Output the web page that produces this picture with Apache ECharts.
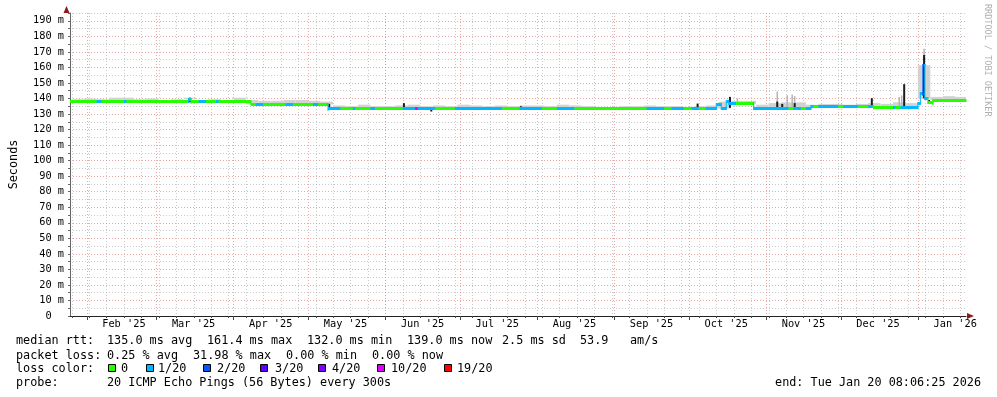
<!DOCTYPE html>
<html>
<head>
<meta charset="utf-8">
<script src="https://cdn.jsdelivr.net/npm/echarts@6/dist/echarts.min.js"></script>
<style>html,body{margin:0;padding:0;background:#fff}#chart{width:997px;height:397px}</style>
</head>
<body>
<div id="chart"></div>
<script>
const startTime = '2025-01-25T08:06:25';
const endTime = '2026-01-20T08:06:25';
const yMax = 195;

const lossNames = ['0', '1/20', '2/20', '3/20', '4/20', '10/20', '19/20'];
const lossColors = ['#26ff00', '#00b8ff', '#0059ff', '#5e00ff', '#7e00ff', '#dd00ff', '#ff0000'];

// median rtt, step changes (start date, ms, loss class index)
const medianDates = [
  '2025-01-25T08:06:25', '2025-02-05', '2025-02-07', '2025-02-16', '2025-02-17', '2025-03-14', '2025-03-15',
  '2025-03-18', '2025-03-21', '2025-03-25', '2025-03-26', '2025-04-08', '2025-04-10', '2025-04-13',
  '2025-04-22', '2025-04-25', '2025-05-03', '2025-05-05', '2025-05-09', '2025-05-14', '2025-05-19',
  '2025-05-20', '2025-05-26', '2025-05-28', '2025-06-08', '2025-06-13', '2025-06-14', '2025-06-21',
  '2025-06-29', '2025-07-18', '2025-07-25', '2025-08-03', '2025-08-09', '2025-08-16', '2025-09-14',
  '2025-09-21', '2025-09-24', '2025-09-29', '2025-10-02', '2025-10-05', '2025-10-08', '2025-10-12',
  '2025-10-14', '2025-10-16', '2025-10-17', '2025-10-20', '2025-10-27', '2025-11-10', '2025-11-12',
  '2025-11-15', '2025-11-17', '2025-11-19', '2025-11-20', '2025-11-22', '2025-11-30', '2025-12-02',
  '2025-12-08', '2025-12-12', '2025-12-14', '2025-12-22', '2025-12-23', '2025-12-25', '2025-12-30',
  '2026-01-01', '2026-01-02', '2026-01-03', '2026-01-03T18:00:00', '2026-01-05', '2026-01-07'
];
const medianMs = [
  138, 138, 138, 138, 138, 139.5, 137.8,
  137.8, 137.8, 137.8, 137.8, 136.2, 136.2, 136.2,
  136.2, 136.2, 136.2, 136.2, 133.3, 133.3, 133.3,
  133.3, 133.3, 133.3, 133.3, 133.3, 133.3, 133.3,
  133.3, 133.3, 133.3, 133.3, 133.3, 133.3, 133.3,
  133.3, 133.3, 133.3, 133.3, 133.3, 133.5, 136,
  133.5, 138, 136.5, 136.5, 133.5, 133.5, 133.5,
  133.5, 133.5, 134.6, 134.6, 134.6, 134.6, 134.6,
  134.6, 134.6, 134.5, 134.5, 134.5, 134.5, 134.2,
  137, 143, 161.4, 140, 137.2, 139
];
const medianLoss = [
  0, 1, 0, 1, 0, 1, 0,
  1, 0, 1, 0, 0, 1, 0,
  1, 0, 1, 0, 1, 0, 1,
  0, 1, 0, 1, 5, 1, 0,
  1, 0, 1, 0, 1, 0, 1,
  0, 1, 0, 1, 0, 1, 1,
  1, 1, 1, 0, 1, 0, 1,
  0, 1, 1, 0, 1, 0, 1,
  0, 1, 0, 1, 0, 1, 1,
  1, 1, 2, 1, 0, 0
];

// smoke top (ms), one value per 5-day slot starting 2025-01-26
const smokeFirst = '2025-01-26';
const smokeTop = [
  139.5, 140, 139.5, 140.5, 140.5, 139.5, 140,
  139, 139.5, 140.5, 139, 139.5, 139, 140.5, 139,
  138.5, 138.5, 139, 139, 138.5, 138,
  135.5, 135, 136, 135, 135, 135.5, 136, 135, 135.5, 135,
  136, 135.5, 135, 135.5, 135, 135.5, 135.5, 135, 136, 135.5,
  135, 134.5, 134.5, 135, 135, 135.5, 135, 135, 134.5, 135, 135.5,
  138, 138.5, 138.5, 136, 137, 137.5, 137.5, 136, 136.5, 136.5, 136, 136.5, 137, 136.5, 137.5, 137,
  140, 141, 141.5, 141
];

// taller grey smoke spikes
const greyDates = ['2025-10-20', '2025-11-05', '2025-11-09', '2025-11-11', '2025-11-12', '2025-12-24', '2025-12-25', '2026-01-03'];
const greyTop = [140, 144.5, 142, 142.5, 141.5, 141, 142, 172];

// dark spikes
const darkDates = ['2025-03-14', '2025-05-09', '2025-06-08', '2025-06-19', '2025-07-25', '2025-10-04', '2025-10-17',
  '2025-11-05', '2025-11-07', '2025-11-12', '2025-12-13', '2025-12-26', '2026-01-03', '2026-01-05'];
const darkLow = [137.5, 133, 133, 131.6, 133, 133, 134, 133, 133, 133, 134, 134.5, 140, 136.5];
const darkHigh = [140.5, 136.5, 137, 133.5, 135, 136.7, 141, 138, 136.5, 137, 140.2, 149.2, 168, 139];

const monthStarts = ['2025-02-01', '2025-03-01', '2025-04-01', '2025-05-01', '2025-06-01', '2025-07-01',
  '2025-08-01', '2025-09-01', '2025-10-01', '2025-11-01', '2025-12-01', '2026-01-01'];
const monthLabelDates = ['2025-02-16', '2025-03-16', '2025-04-16', '2025-05-16', '2025-06-16', '2025-07-16',
  '2025-08-16', '2025-09-16', '2025-10-16', '2025-11-16', '2025-12-16', '2026-01-16'];
const monthNames = ['Jan', 'Feb', 'Mar', 'Apr', 'May', 'Jun', 'Jul', 'Aug', 'Sep', 'Oct', 'Nov', 'Dec'];
const firstSunday = '2025-01-26';

const DAY = 86400000;
const ts = s => new Date(s.length === 10 ? s + 'T00:00:00' : s).getTime();
const tStart = ts(startTime), tEnd = ts(endTime);

function medianAt(t) {
  let v = medianMs[0];
  for (let i = 0; i < medianDates.length; i++) { if (ts(medianDates[i]) <= t) v = medianMs[i]; }
  return v;
}

// [start, end, ms, lossIdx, previous ms]
const medianData = medianDates.map((d, i) => [ts(d), i < medianDates.length - 1 ? ts(medianDates[i + 1]) : tEnd,
  medianMs[i], medianLoss[i], i > 0 ? medianMs[i - 1] : medianMs[i]]);
const smokeData = smokeTop.map((v, i) => {
  const t0 = ts(smokeFirst) + i * 5 * DAY;
  return [t0, Math.min(t0 + 5 * DAY, tEnd), medianAt(t0 + 2.5 * DAY), v];
});
const greyData = greyDates.map((d, i) => [ts(d) + DAY / 2, medianAt(ts(d) + DAY / 2), greyTop[i]]);
const darkData = darkDates.map((d, i) => [ts(d) + DAY / 2, darkLow[i], darkHigh[i]]);

const gridData = monthStarts.map(d => [ts(d), 1]);
for (let t = ts(firstSunday); t < tEnd; t += 7 * DAY) gridData.push([t, 0]);

const MONO = '"DejaVu Sans Mono", monospace';
const RED_GRID = 'rgba(222,110,110,0.6)';
const GREY_GRID = 'rgba(160,160,160,0.55)';

const chart = echarts.init(document.getElementById('chart'));
const option = {
  animation: false,
  backgroundColor: '#fff',
  grid: { left: 66, right: 31, top: 13, bottom: 81 },
  xAxis: {
    type: 'time', min: tStart, max: tEnd,
    axisLine: { lineStyle: { color: '#222', width: 1 } },
    axisTick: { show: false }, axisLabel: { show: false }, splitLine: { show: false }
  },
  yAxis: {
    type: 'value', min: 0, max: yMax, interval: 5,
    name: 'Seconds', nameLocation: 'middle', nameGap: 50,
    nameTextStyle: { fontFamily: MONO, fontSize: 11.8, color: '#000' },
    axisLine: { show: true, lineStyle: { color: '#666' } },
    axisTick: { show: true, length: 2, lineStyle: { color: '#666' } },
    axisLabel: {
      fontFamily: MONO, fontSize: 10.3, color: '#000', margin: 6,
      formatter: v => (v % 10 !== 0 ? '' : v === 0 ? '0  ' : v + ' m')
    },
    splitLine: { show: true, lineStyle: { color: [RED_GRID, GREY_GRID], type: [1, 2], width: 1 } }
  },
  series: [
    {
      type: 'custom', name: 'vgrid', z: 1, silent: true, clip: false,
      data: gridData,
      renderItem: (params, api) => {
        const t = api.value(0), major = api.value(1);
        const top = api.coord([t, yMax]), bot = api.coord([t, 0]);
        const x = Math.round(bot[0]) + 0.5;
        return { type: 'group', children: [
          { type: 'line', shape: { x1: x, y1: top[1], x2: x, y2: bot[1] },
            style: { stroke: major ? RED_GRID : GREY_GRID, lineWidth: 1, lineDash: [1, 2] } },
          { type: 'line', shape: { x1: x, y1: bot[1], x2: x, y2: bot[1] + (major ? 4 : 2) },
            style: { stroke: '#444', lineWidth: 1 } }
        ] };
      }
    },
    {
      type: 'custom', name: 'monthLabels', z: 1, silent: true, clip: false,
      data: monthLabelDates.map(d => [ts(d)]),
      renderItem: (params, api) => {
        const t = api.value(0), p = api.coord([t, 0]), d = new Date(t);
        return { type: 'text', x: p[0], y: p[1] + 3,
          style: { text: monthNames[d.getMonth()] + " '" + String(d.getFullYear()).slice(2),
            font: '10.3px ' + MONO, fill: '#000', textAlign: 'center', textVerticalAlign: 'top' } };
      }
    },
    {
      type: 'custom', name: 'smoke', z: 2, silent: true,
      data: smokeData, encode: { x: [0, 1], y: [2, 3] },
      renderItem: (params, api) => {
        const a = api.coord([api.value(0), api.value(3)]), b = api.coord([api.value(1), api.value(2)]);
        return { type: 'rect', shape: { x: a[0], y: a[1], width: b[0] - a[0], height: b[1] - a[1] },
          style: { fill: '#d2d2d2' } };
      }
    },
    {
      type: 'custom', name: 'greySpikes', z: 3, silent: true,
      data: greyData, encode: { x: 0, y: [1, 2] },
      renderItem: (params, api) => {
        const a = api.coord([api.value(0), api.value(2)]), b = api.coord([api.value(0), api.value(1)]);
        return { type: 'rect', shape: { x: a[0] - 0.75, y: a[1], width: 1.5, height: b[1] - a[1] },
          style: { fill: '#b4b4b4' } };
      }
    },
    {
      type: 'custom', name: 'darkSpikes', z: 4, silent: true,
      data: darkData, encode: { x: 0, y: [1, 2] },
      renderItem: (params, api) => {
        const a = api.coord([api.value(0), api.value(2)]), b = api.coord([api.value(0), api.value(1)]);
        return { type: 'rect', shape: { x: a[0] - 1, y: a[1], width: 2, height: b[1] - a[1] },
          style: { fill: '#1c1c1c' } };
      }
    },
    {
      type: 'custom', name: 'median', z: 5, silent: true,
      data: medianData, encode: { x: [0, 1], y: [2, 4] },
      renderItem: (params, api) => {
        const v = api.value(2), pv = api.value(4), t0 = api.value(0), t1 = api.value(1);
        const a = api.coord([t0, v]), b = api.coord([t1, v]);
        const color = lossColors[api.value(3)];
        const y0 = Math.round(a[1] - 1.5);
        const children = [{ type: 'rect', shape: { x: a[0], y: y0, width: b[0] - a[0] + 0.5, height: 3 }, style: { fill: color } }];
        if (pv !== v) {
          const p = api.coord([t0, pv]);
          const top = Math.round(Math.min(p[1], a[1]) - 1.5);
          children.push({ type: 'rect', shape: { x: a[0] - 0.5, y: top, width: 1, height: Math.round(Math.abs(p[1] - a[1])) + 3 }, style: { fill: color } });
        }
        return { type: 'group', children };
      }
    }
  ],
  graphic: []
};

const g = option.graphic;
const txt = (x, y, s) => g.push({ type: 'text', x, y, silent: true,
  style: { text: s, font: '11.8px ' + MONO, fill: '#000', textVerticalAlign: 'middle' } });
// axis arrows
g.push({ type: 'polygon', silent: true, shape: { points: [[63.5, 13], [69.5, 13], [66.5, 6]] }, style: { fill: '#8b1a1a' } });
g.push({ type: 'polygon', silent: true, shape: { points: [[967, 313], [967, 319], [974, 316]] }, style: { fill: '#8b1a1a' } });
// stats
txt(16, 341, 'median rtt:');
txt(107, 341, '135.0 ms avg'); txt(207, 341, '161.4 ms max'); txt(307, 341, '132.0 ms min');
txt(407, 341, '139.0 ms now'); txt(502, 341, '2.5 ms sd'); txt(580, 341, '53.9'); txt(630, 341, 'am/s');
txt(16, 355.5, 'packet loss:');
txt(107, 355.5, '0.25 % avg'); txt(193, 355.5, '31.98 % max'); txt(286, 355.5, '0.00 % min'); txt(372, 355.5, '0.00 % now');
txt(16, 369, 'loss color:');
const boxX = [108, 146, 203, 260, 318, 377, 444];
const boxLabelX = [121, 158, 217, 275, 332, 391, 457];
lossNames.forEach((n, i) => {
  g.push({ type: 'rect', silent: true, shape: { x: boxX[i] + 0.5, y: 364.5, width: 7, height: 7 },
    style: { fill: lossColors[i], stroke: '#000', lineWidth: 1 } });
  txt(boxLabelX[i], 369, n);
});
txt(16, 383, 'probe:');
txt(107, 383, '20 ICMP Echo Pings (56 Bytes) every 300s');
g.push({ type: 'text', x: 981, y: 383, silent: true,
  style: { text: 'end: Tue Jan 20 08:06:25 2026', font: '11.8px ' + MONO, fill: '#000', textAlign: 'right', textVerticalAlign: 'middle' } });
g.push({ type: 'text', x: 987, y: 4, rotation: -Math.PI / 2, silent: true,
  style: { text: 'RRDTOOL / TOBI OETIKER', font: '8.5px ' + MONO, fill: '#b0b0b0', textAlign: 'left', textVerticalAlign: 'middle' } });

chart.setOption(option);
</script>
</body>
</html>
